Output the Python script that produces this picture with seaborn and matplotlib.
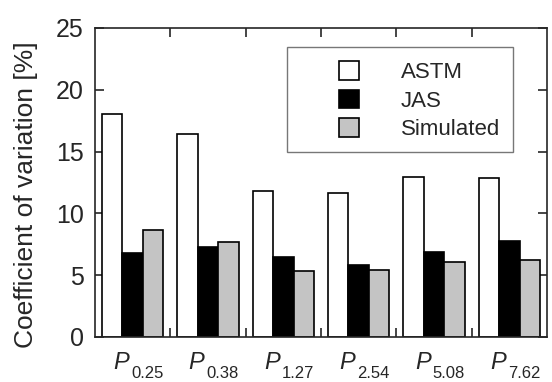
import numpy as np
import pandas as pd
import matplotlib
matplotlib.use("Agg")
import matplotlib.pyplot as plt
import matplotlib.patches as mpatches
import matplotlib.transforms as mtransforms
import seaborn as sns

# data
conditions = ['0.25', '0.38', '1.27', '2.54', '5.08', '7.62']
astm = [18.0, 16.4, 11.8, 11.65, 12.95, 12.85]
jas = [6.8, 7.25, 6.45, 5.85, 6.85, 7.75]
simulated = [8.65, 7.65, 5.3, 5.4, 6.1, 6.2]
methods = ['ASTM', 'JAS', 'Simulated']
colors = ['white', 'black', '#c4c4c4']

df = pd.DataFrame({
    'condition': conditions * 3,
    'cv': astm + jas + simulated,
    'method': [m for m in methods for _ in conditions],
})

sns.set_style('ticks')
plt.rcParams['font.family'] = ['Liberation Sans', 'DejaVu Sans']

fig = plt.figure(figsize=(5.52, 3.82), dpi=100)
ax = fig.add_axes([0.172, 0.118, 0.819, 0.809])

sns.barplot(data=df, x='condition', y='cv', hue='method', order=conditions,
            hue_order=methods, palette=colors, edgecolor='black', linewidth=1.2,
            width=0.814, gap=0, errorbar=None, ax=ax, legend=True)

ax.set_xlim(-0.5, len(conditions) - 0.5)
ax.set_ylim(0, 25)
ax.set_yticks([0, 5, 10, 15, 20, 25])
ax.set_xticks(range(len(conditions)))
ax.set_xticklabels([])
ax.set_xticks(np.arange(0.5, len(conditions) - 1, 1.0), minor=True)
ax.tick_params(axis='x', which='major', length=0)
ax.tick_params(axis='x', which='minor', direction='in', length=6.5, width=1.2,
               top=True, bottom=True)
ax.tick_params(axis='y', direction='in', length=6.5, width=1.2, right=True,
               labelsize=18, pad=8)
for s in ax.spines.values():
    s.set_linewidth(1.2)
    s.set_visible(True)

# x labels: italic P with a low-set subscript
blend = mtransforms.blended_transform_factory(ax.transData, ax.transAxes)
p_tr = mtransforms.offset_copy(blend, fig=fig, x=-2.5, y=-23, units='points')
sub_tr = mtransforms.offset_copy(blend, fig=fig, x=-1, y=-29.5, units='points')
for i, c in enumerate(conditions):
    ax.text(i, 0, 'P', style='italic', fontsize=17, ha='right',
            va='baseline', transform=p_tr)
    ax.text(i, 0, c, fontsize=12, ha='left', va='baseline', transform=sub_tr)

ax.set_xlabel('')
ax.set_ylabel('Coefficient of variation [%]', fontsize=19)
ax.yaxis.set_label_coords(-0.125, 0.46)

# legend: frameless legend plus a hand-drawn grey frame
handles, labels = ax.get_legend_handles_labels()
ax.legend(handles, labels, loc='upper left', bbox_to_anchor=(0.5, 0.95),
          frameon=False, fontsize=16, handlelength=0.9, handleheight=0.9,
          handletextpad=1.9, labelspacing=0.3, borderpad=0.3)
frame = mpatches.Rectangle((0.425, 0.599), 0.5, 0.34, transform=ax.transAxes,
                           fill=False, edgecolor='#777777', linewidth=1.0)
ax.add_patch(frame)

fig.savefig('out.png', dpi=100)
